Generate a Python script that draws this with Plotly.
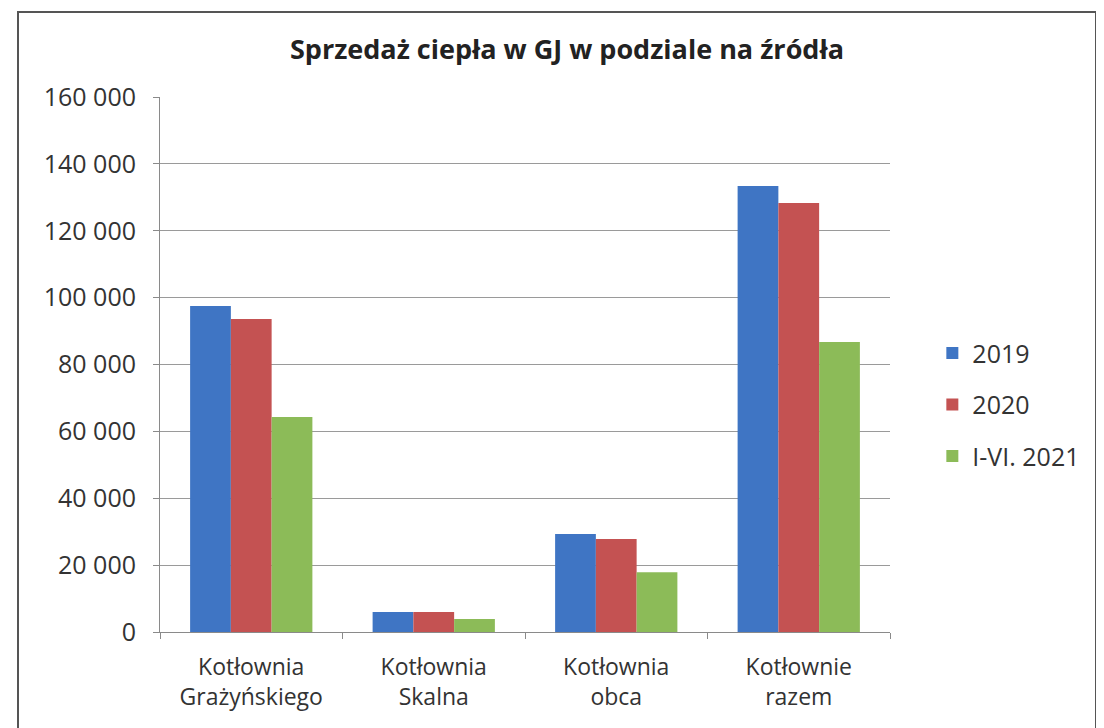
import plotly.graph_objects as go

categories = ["Kotłownia<br>Grażyńskiego", "Kotłownia<br>Skalna", "Kotłownia<br>obca", "Kotłownie<br>razem"]
series_names = ["2019", "2020", "I-VI. 2021"]
v2019 = [97500, 6000, 29300, 133400]
v2020 = [93600, 6000, 27800, 128300]
v2021 = [64300, 3900, 17900, 86700]
colors = ["#3f75c4", "#c45252", "#8cbb58"]

tick_vals = [0, 20000, 40000, 60000, 80000, 100000, 120000, 140000, 160000]
tick_text = ["0", "20 000", "40 000", "60 000", "80 000", "100 000", "120 000", "140 000", "160 000"]

font = "'Open Sans', sans-serif"

fig = go.Figure()
for name, vals, col in zip(series_names, [v2019, v2020, v2021], colors):
    fig.add_trace(go.Bar(x=categories, y=vals, name=name, marker_color=col,
                         marker_line_width=0, legendgroup=name))

# page body adds ~8px offset, so the figure is sized to fit the window
fig.update_layout(
    width=1096, height=720,
    margin=dict(l=152, r=214, t=89, b=96),
    paper_bgcolor="white", plot_bgcolor="white",
    font=dict(family=font, size=20, color="#333333"),
    title=dict(text="<b>Sprzedaż ciepła w GJ w podziale na źródła</b>",
               x=0.51, xanchor="center", y=0.942, yanchor="middle",
               font=dict(size=27, color="#222222")),
    barmode="group", bargap=0.33, bargroupgap=0,
    legend=dict(x=1.058, y=0.425, xanchor="left", yanchor="middle",
                font=dict(size=25), tracegroupgap=16, itemwidth=30),
    showlegend=True,
)
fig.update_yaxes(range=[0, 160000], tickvals=tick_vals, ticktext=tick_text,
                 tickfont=dict(size=25), ticklabelstandoff=12,
                 showgrid=True, gridcolor="#9a9a9a", gridwidth=1,
                 showline=True, linecolor="#8a8a8a", ticks="outside",
                 ticklen=6, tickcolor="#8a8a8a", zeroline=False)
fig.update_xaxes(showline=True, linecolor="#8a8a8a", ticks="outside",
                 tickson="boundaries", ticklen=6, tickcolor="#8a8a8a",
                 tickfont=dict(size=23), ticklabelstandoff=14)

# scanned chart frame
fig.add_shape(type="rect", xref="paper", yref="paper",
              x0=(10 - 152) / 730, x1=(1088 - 152) / 730,
              y0=(624 - 740) / 535, y1=(624 - 4) / 535,
              line=dict(color="#555555", width=2))

fig.write_html("out.html")
